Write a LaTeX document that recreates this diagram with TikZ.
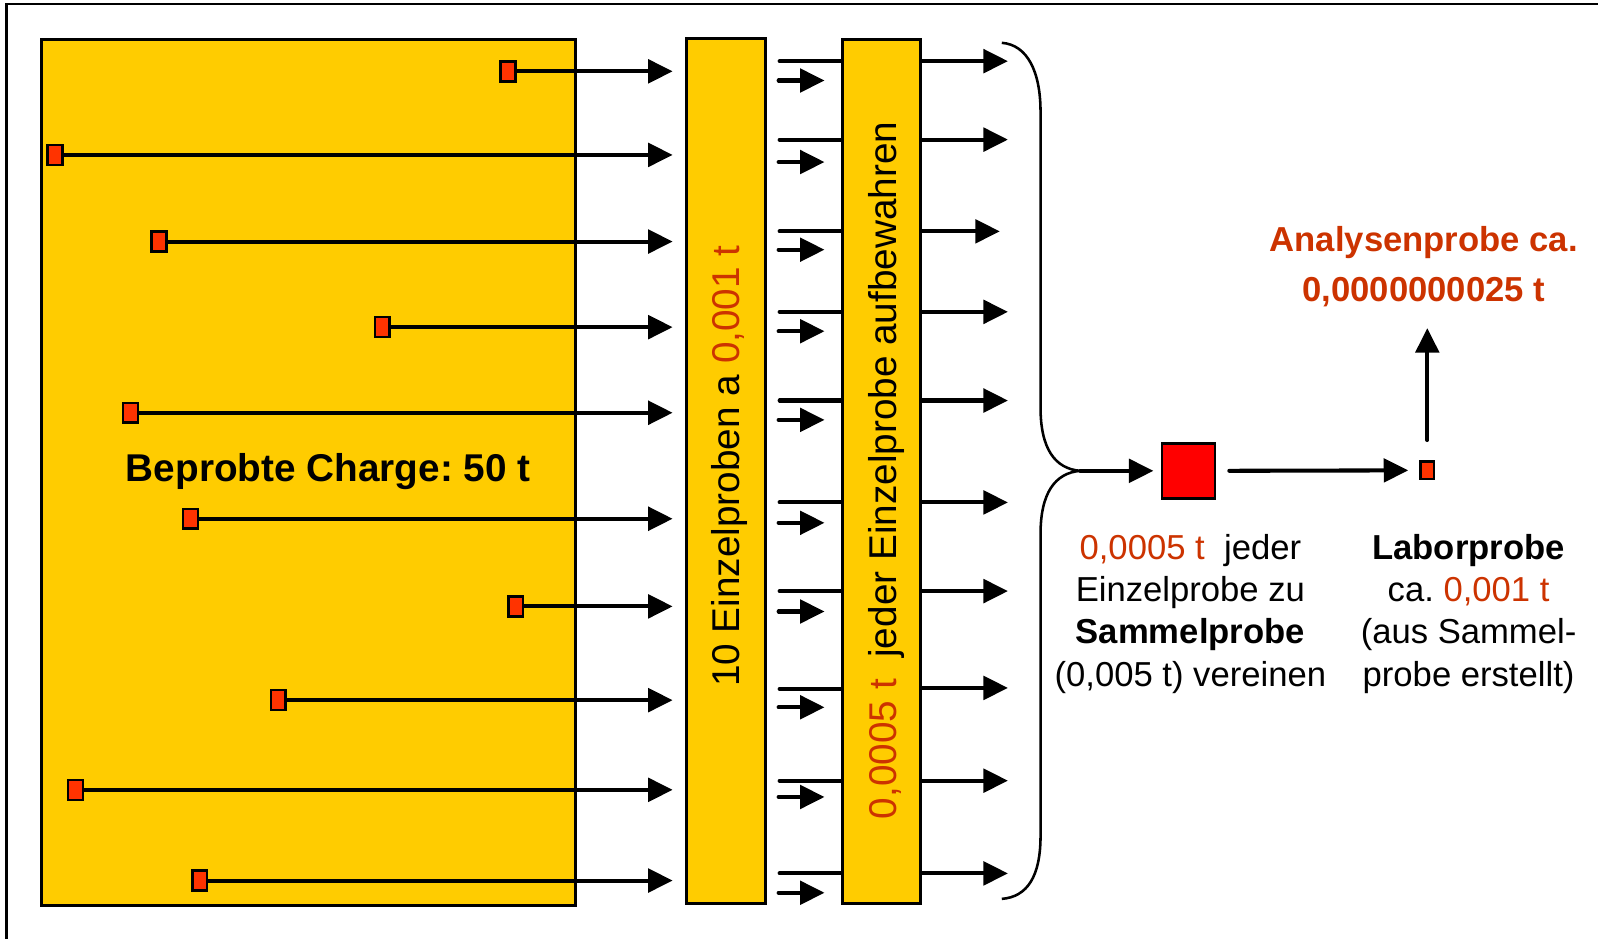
\documentclass[tikz,border=0pt]{standalone}
\usepackage{fontspec}
\setmainfont{Liberation Sans}
\usetikzlibrary{arrows.meta}
\definecolor{gold}{RGB}{255,204,0}
\definecolor{sq}{RGB}{255,51,0}
\definecolor{txr}{RGB}{204,51,0}
\frenchspacing
\begin{document}
\begin{tikzpicture}[x=1pt,y=-1pt,
  arr/.style={line width=4pt,line cap=round,-{Triangle[length=24pt,width=23pt]}},
  ln/.style={line width=4pt,line cap=round},
  col/.style={draw=black,line width=3pt,fill=gold,inner sep=0pt,anchor=north west},
  smp/.style={draw=black,line width=2.5pt,fill=sq,minimum width=14.5pt,minimum height=19.5pt,inner sep=0pt},
  bigtxt/.style={font=\fontsize{38}{44}\selectfont,inner sep=0pt},
  rt/.style={font=\fontsize{34}{41.5}\selectfont,align=center,anchor=north,inner sep=0pt}]

\useasboundingbox (0,0) rectangle (1568,921);
\draw[line width=2.5pt] (6.5,1000) -- (6.5,4) -- (1700,4);

% main blocks
\node[col,minimum width=524pt,minimum height=850pt] (charge) at (39,37) {};
\node[col,minimum width=78pt,minimum height=849pt] (c2) at (672,36) {};
\node[col,minimum width=77pt,minimum height=848pt] (c3) at (825,37) {};

\node[bigtxt,font=\fontsize{38}{44}\selectfont\bfseries,anchor=base] (lbl) at (322,472.6) {Beprobte Charge: 50 t};
\node[bigtxt,rotate=90,anchor=base] (t2) at (726,457.5) {10 Einzelproben a \textcolor{txr}{0,001 t}};
\node[bigtxt,rotate=90,anchor=base] (t3) at (880,461.5) {\textcolor{txr}{0,0005 t}\ \ jeder Einzelprobe aufbewahren};

% increments and first arrows
\foreach \i/\x/\y in {1/498.5/70, 2/54/152, 3/156/237, 4/375/321, 5/128/405,
                      6/187/509, 7/506/595, 8/273/687, 9/74/775, 10/196/864} {
  \node[smp] (s\i) at (\x,\y) {};
  \draw[arr,shorten >=12pt] (s\i) -- (s\i -| c2.west);
}

% between column 2 and 3, and after column 3
\foreach \i/\u/\l/\r/\tx in {1/60/79/60/989, 2/137/159/137/989, 3/227/245/227/981,
                             4/306/325/306/989, 5/393/412/393/989, 6/493/513/493/989,
                             7/580/600/580/989, 8/676/694/675/989, 9/766/782/766/989,
                             10/857/876/857/989} {
  \coordinate (u\i) at (765,\u);
  \coordinate (l\i) at (764,\l);
  \coordinate (le\i) at (809,\l);
  \coordinate (r\i) at (\tx,\r);
  \draw[ln] (u\i) -- (u\i -| c3.west);
  \draw[arr] (l\i) -- (le\i);
  \draw[arr] (r\i -| c3.east) -- (r\i);
}

% brace
\draw[line width=2.5pt] (983,42) .. controls (1008,44) and (1021,70) .. (1021,110)
  -- (1021,400) .. controls (1021,440) and (1035,460) .. (1060,462) coordinate (tip)
  .. controls (1035,464) and (1021,484) .. (1021,524)
  -- (1021,820) .. controls (1021,860) and (1008,880) .. (983,882);

% composite and lab sample
\node[draw=black,line width=2.5pt,fill=red,minimum width=52pt,minimum height=54pt,inner sep=0pt] (bigsq) at (1166,462) {};
\node[smp,minimum width=13pt,minimum height=17pt] (lab) at (1400.5,461.5) {};
\coordinate (up) at (1400.5,322);

\draw[arr,shorten >=7pt] (tip) -- (bigsq.west);
\draw[arr,shorten <=13pt,shorten >=11pt] (bigsq.east) -- (lab.west);
\draw[arr,shorten <=20pt] (lab.north) -- (up);

% texts
\node[rt,font=\fontsize{34}{49}\selectfont\bfseries,text=txr] (ana) at (1397,222) {Analysenprobe ca.\\0,0000000025 t};
\node[rt] (txt1) at (1168,524) {\textcolor{txr}{0,0005 t}\ \ jeder\\Einzelprobe zu\\\textbf{Sammelprobe}\\(0,005 t) vereinen};
\node[rt] (txt2) at (1441,524) {\textbf{Laborprobe}\\ca. \textcolor{txr}{0,001 t}\\(aus Sammel-\\probe erstellt)};
\end{tikzpicture}
\end{document}
